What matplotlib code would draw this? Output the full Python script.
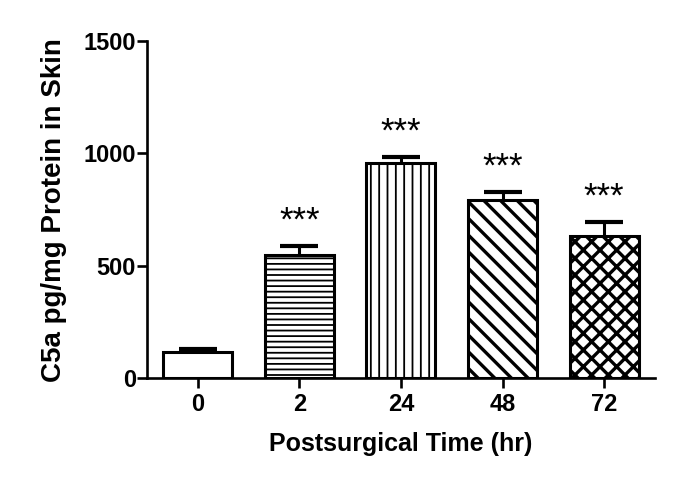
from matplotlib import pyplot as plt

# Values (pg/mg protein), upper SEM only.
times = ["0", "2", "24", "48", "72"]
c5a = [115, 549, 957, 793, 634]
sem = [13, 40, 27, 36, 62]
stars = ["", "***", "***", "***", "***"]
hatches = ["", "---", "||", "\\\\", "xx"]
hatch_widths = [1.5, 1.3, 1.3, 2.4, 2.4]

plt.rcParams["font.family"] = ["Liberation Sans", "DejaVu Sans"]
plt.rcParams["font.weight"] = "bold"
plt.rcParams["hatch.linewidth"] = 1.5

fig = plt.figure(figsize=(6.85, 4.96), dpi=100)
ax = fig.add_axes((0.2146, 0.2379, 0.956 - 0.2146, 0.917 - 0.2379))

x = range(len(times))
bars = ax.bar(x, c5a, 0.68, color="white", edgecolor="black", linewidth=2.2,
              hatch=hatches, zorder=2)
for b, hw in zip(bars, hatch_widths):
    if hasattr(b, "set_hatch_linewidth"):
        b.set_hatch_linewidth(hw)

# only the upper half of the error bar, like Prism draws it
eb = ax.errorbar(x, c5a, yerr=[[0] * len(sem), sem], fmt="none", ecolor="black",
                 elinewidth=2.2, capsize=13.5, capthick=3, zorder=3)
eb[1][0].set_visible(False)  # lower caps sit on the bar top, hide them

for i, s in enumerate(stars):
    if s:
        ax.annotate(s, (i, c5a[i] + sem[i]), xytext=(0, 18), textcoords="offset points",
                    ha="center", va="center", fontsize=25, fontweight="normal")

ax.set_xlim(-0.5, 4.5)
ax.set_ylim(0, 1500)
ax.set_yticks([0, 500, 1000, 1500])
ax.set_xticks(list(x))
ax.set_xticklabels(times)

for side in ("top", "right"):
    ax.spines[side].set_visible(False)
for side in ("left", "bottom"):
    ax.spines[side].set_linewidth(1.9)
ax.tick_params(axis="both", width=1.9, labelsize=17, direction="out")
ax.tick_params(axis="x", length=7, pad=4)
ax.tick_params(axis="y", length=7, pad=1)

ax.set_xlabel("Postsurgical Time (hr)", fontsize=18, fontweight="bold", labelpad=11)
ax.set_ylabel("C5a pg/mg Protein in Skin", fontsize=20, fontweight="bold")
ax.yaxis.label.set_va("center")
ax.yaxis.set_label_coords(-0.183, 0.5)

fig.savefig("out.png", dpi=100)
